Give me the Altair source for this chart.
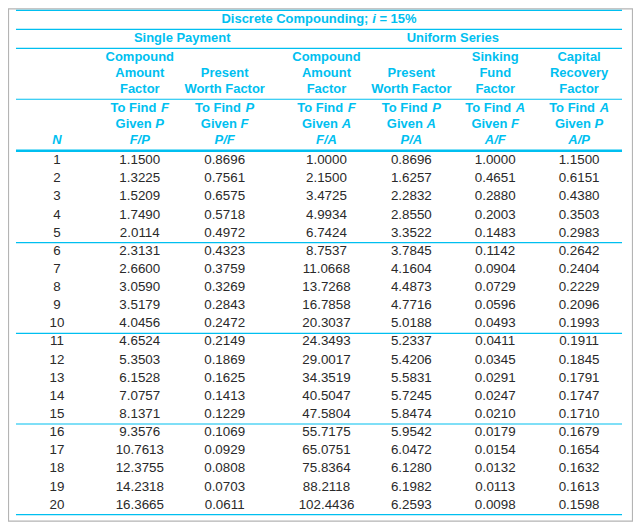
import altair as alt
import pandas as pd

# ---------------- data ----------------
N = list(range(1, 21))
FP = [1.1500, 1.3225, 1.5209, 1.7490, 2.0114, 2.3131, 2.6600, 3.0590, 3.5179, 4.0456,
      4.6524, 5.3503, 6.1528, 7.0757, 8.1371, 9.3576, 10.7613, 12.3755, 14.2318, 16.3665]
PF = [0.8696, 0.7561, 0.6575, 0.5718, 0.4972, 0.4323, 0.3759, 0.3269, 0.2843, 0.2472,
      0.2149, 0.1869, 0.1625, 0.1413, 0.1229, 0.1069, 0.0929, 0.0808, 0.0703, 0.0611]
FA = [1.0000, 2.1500, 3.4725, 4.9934, 6.7424, 8.7537, 11.0668, 13.7268, 16.7858, 20.3037,
      24.3493, 29.0017, 34.3519, 40.5047, 47.5804, 55.7175, 65.0751, 75.8364, 88.2118, 102.4436]
PA = [0.8696, 1.6257, 2.2832, 2.8550, 3.3522, 3.7845, 4.1604, 4.4873, 4.7716, 5.0188,
      5.2337, 5.4206, 5.5831, 5.7245, 5.8474, 5.9542, 6.0472, 6.1280, 6.1982, 6.2593]
AF = [1.0000, 0.4651, 0.2880, 0.2003, 0.1483, 0.1142, 0.0904, 0.0729, 0.0596, 0.0493,
      0.0411, 0.0345, 0.0291, 0.0247, 0.0210, 0.0179, 0.0154, 0.0132, 0.0113, 0.0098]
AP = [1.1500, 0.6151, 0.4380, 0.3503, 0.2983, 0.2642, 0.2404, 0.2229, 0.2096, 0.1993,
      0.1911, 0.1845, 0.1791, 0.1747, 0.1710, 0.1679, 0.1654, 0.1632, 0.1613, 0.1598]

TITLE = [("Discrete Compounding; ", False), ("i", True), (" = 15%", False)]
GROUPS = ["Single Payment", "Uniform Series"]
FACTOR_NAMES = [
    ["Compound", "Amount", "Factor"],
    ["", "Present", "Worth Factor"],
    ["Compound", "Amount", "Factor"],
    ["", "Present", "Worth Factor"],
    ["Sinking", "Fund", "Factor"],
    ["Capital", "Recovery", "Factor"],
]
FIND = ["F", "P", "F", "P", "A", "A"]
GIVEN = ["P", "F", "A", "A", "F", "P"]
RATIOS = ["F/P", "P/F", "F/A", "P/A", "A/F", "A/P"]

# ---------------- layout / style ----------------
CYAN = "#00BFF0"
TEXT = "#2a2a2a"
FONT = "Liberation Sans"
COL_X = [140, 225, 327, 412, 496, 580]
N_X = 57
TABLE_X = (16, 623)
ROW0, PITCH = 160, 18.16
HEAD_FS, BODY_FS = 13, 13.4

BOLD_W = {' ': 278, 'T': 611, 'o': 611, 'F': 611, 'i': 278, 'n': 611, 'd': 611,
          'G': 778, 'v': 556, 'e': 556, 'P': 667, 'A': 722, 'D': 722, 's': 556,
          'c': 556, 'r': 389, 't': 333, 'C': 722, 'm': 889, 'p': 611, 'u': 611,
          'g': 611, ';': 333, '=': 584, '1': 556, '5': 556, '%': 889, '/': 278}


def tw(s):
    return sum(BOLD_W.get(ch, 600) for ch in s) * HEAD_FS / 1000.0


def pieces_line(pieces, cx, y):
    total = sum(tw(t) for t, _ in pieces)
    x = cx - total / 2
    out = []
    for t, it in pieces:
        lead = len(t) - len(t.lstrip(' '))
        out.append(dict(x=x + tw(' ') * lead, y=y, t=t.strip(), italic=it, align="left"))
        x += tw(t)
    return out


def row_y(i):
    return ROW0 + i * PITCH


head = []
head += pieces_line(TITLE, (TABLE_X[0] + TABLE_X[1]) / 2, 19)
head.append(dict(x=(COL_X[0] + COL_X[1]) / 2, y=38, t=GROUPS[0], italic=False, align="center"))
head.append(dict(x=(COL_X[2] + COL_X[5]) / 2, y=38, t=GROUPS[1], italic=False, align="center"))
for c, names in enumerate(FACTOR_NAMES):
    for k, nm in enumerate(names):
        if nm:
            head.append(dict(x=COL_X[c], y=57 + 16 * k, t=nm, italic=False, align="center"))
for c in range(6):
    head += pieces_line([("To Find ", False), (FIND[c], True)], COL_X[c], 108)
    head += pieces_line([("Given ", False), (GIVEN[c], True)], COL_X[c], 124)
    head.append(dict(x=COL_X[c], y=140, t=RATIOS[c], italic=True, align="center"))
head.append(dict(x=N_X, y=140, t="N", italic=True, align="center"))
head_df = pd.DataFrame(head)
head_df["ital"] = head_df["italic"].astype(int)

body_n = pd.DataFrame({"x": N_X, "y": [row_y(i) for i in range(20)], "v": N})
cols = [FP, PF, FA, PA, AF, AP]
body_v = pd.DataFrame([dict(x=COL_X[c], y=row_y(i), v=vals[i])
                       for c, vals in enumerate(cols) for i in range(20)])

rules = [10, 29, 48, 99] + [row_y(i) + 10 for i in (4, 9, 14, 19)]
rule_df = pd.DataFrame({"y": rules, "x": TABLE_X[0], "x2": TABLE_X[1], "w": 1.2})
rule_df = pd.concat([rule_df, pd.DataFrame({"y": [150.5], "x": [TABLE_X[0]],
                                            "x2": [TABLE_X[1]], "w": [2.5]})])
border_df = pd.DataFrame({"x": [8.5], "x2": [633.5], "y": [8.5], "y2": [521.5]})

X = alt.X("x:Q", scale=alt.Scale(domain=[8, 634], nice=False, zero=False), axis=None)
Y = alt.Y("y:Q", scale=alt.Scale(domain=[8, 524], nice=False, zero=False, reverse=True), axis=None)

border = alt.Chart(border_df).mark_rect(filled=False, stroke="#b4b4b4", strokeWidth=1.2).encode(
    x=X, x2="x2:Q", y=Y, y2="y2:Q")

lines = alt.Chart(rule_df).mark_rule(color=CYAN).encode(
    x=X, x2="x2:Q", y=Y, strokeWidth=alt.StrokeWidth("w:Q", scale=None, legend=None))

head_layers = []
for al in ("left", "center"):
    for it in (0, 1):
        head_layers.append(
            alt.Chart(head_df)
            .transform_filter((alt.datum.align == al) & (alt.datum.ital == it))
            .mark_text(font=FONT, fontSize=HEAD_FS, fontWeight="bold", color=CYAN,
                       align=al, baseline="middle",
                       fontStyle="italic" if it else "normal")
            .encode(x=X, y=Y, text="t:N")
        )

n_text = alt.Chart(body_n).mark_text(
    font=FONT, fontSize=BODY_FS, color=TEXT, align="center", baseline="middle"
).encode(x=X, y=Y, text=alt.Text("v:Q", format="d"))

v_text = alt.Chart(body_v).mark_text(
    font=FONT, fontSize=BODY_FS, color=TEXT, align="center", baseline="middle"
).encode(x=X, y=Y, text=alt.Text("v:Q", format=".4f"))

chart = alt.layer(border, lines, *head_layers, n_text, v_text).properties(
    width=626, height=516, padding=0, autosize=alt.AutoSizeParams(type="none"),
    background="white"
).configure_view(stroke=None)

chart.save("out.html", embed_options={"renderer": "svg", "actions": False})
